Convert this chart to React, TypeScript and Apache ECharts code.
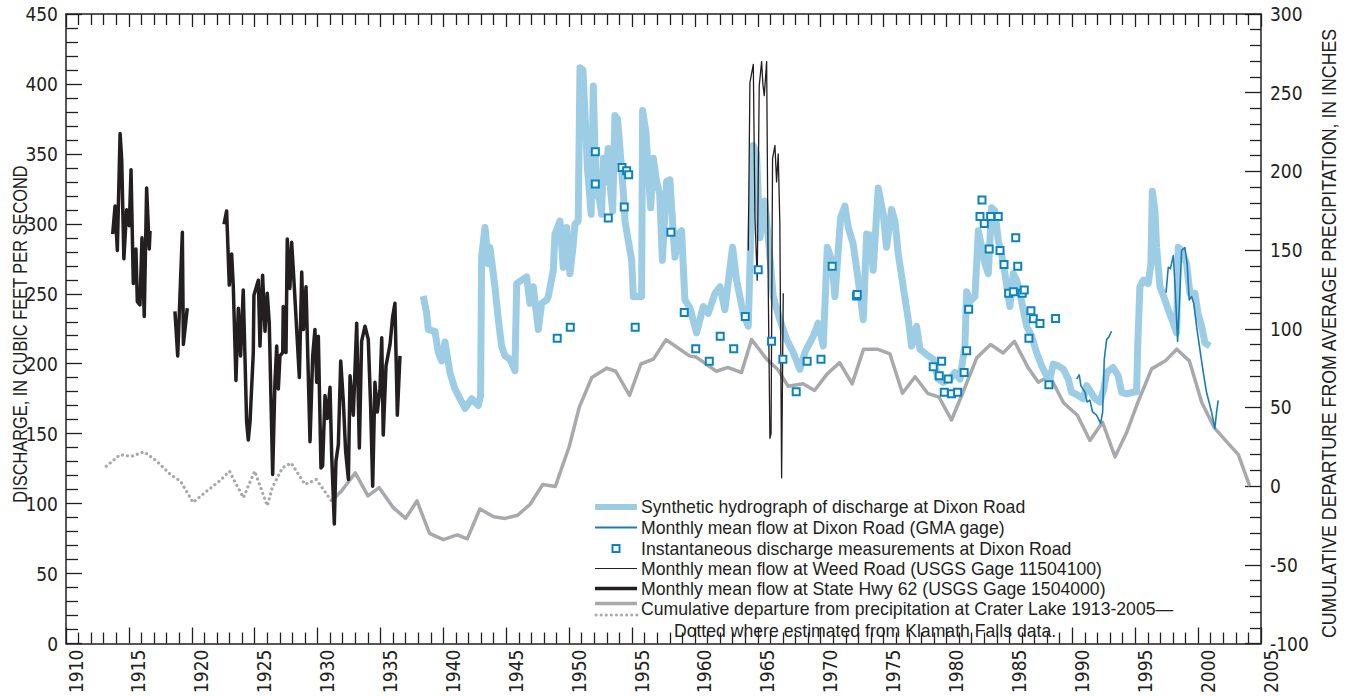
import React, { useEffect, useRef } from "react";
import * as echarts from "echarts";

const FONT = '"DejaVu Sans Condensed", "Liberation Sans", sans-serif';
const TEXT_FONT = '"Liberation Sans", Arial, sans-serif';
const INK = "#231f20";
const LIGHT_BLUE = "#9dcde4";
const GMA_BLUE = "#1a7db5";
const SQUARE_BLUE = "#0b84bd";
const GRAY = "#a7a9ac";

const X_MIN = 1910;
const X_MAX = 2005;
const Y_LEFT = [0, 450];
const Y_RIGHT = [-100, 300];

const leftAxisName = "DISCHARGE, IN CUBIC FEET PER SECOND";
const rightAxisName = "CUMULATIVE DEPARTURE FROM AVERAGE PRECIPITATION, IN INCHES";

const legendLabels = [
  "Synthetic hydrograph of discharge at Dixon Road",
  "Monthly mean flow at Dixon Road (GMA gage)",
  "Instantaneous discharge measurements at Dixon Road",
  "Monthly mean flow at Weed Road (USGS Gage 11504100)",
  "Monthly mean flow at State Hwy 62 (USGS Gage 1504000)",
  "Cumulative departure from precipitation at Crater Lake 1913-2005\u2014",
  "Dotted where estimated from Klamath Falls data.",
];

// Cumulative departure from average precipitation (right axis, inches)
const cumDepEstimated = [
  [1913.2, 12.6], [1914.3, 20], [1915.2, 18.9], [1916.2, 21.8], [1917.2, 16],
  [1918.3, 7.4], [1919.1, 3.2], [1920.1, -10.4], [1921.2, -3.1], [1922.2, 3.2],
  [1923.0, 9.4], [1924.1, -7.3], [1925.0, 9.5], [1926.0, -12.5], [1926.4, -1],
  [1927.2, 11.6], [1927.9, 14.7], [1929.0, 1.1], [1929.9, 4.2], [1931.1, -9.4],
];
const cumDepMeasured = [
  [1931.1, -9.4], [1931.9, -3.1], [1933.0, 8.4], [1934.0, -6.2], [1934.9, -1],
  [1936.0, -13.5], [1937.0, -20.5], [1937.9, -9.4], [1938.9, -30], [1940.0, -34],
  [1941.1, -31], [1941.9, -33.5], [1942.9, -14.5], [1944.0, -19.5], [1944.9, -20.5],
  [1945.9, -18.5], [1946.9, -11.5], [1947.9, 1], [1948.9, -0.2], [1950.0, 25],
  [1950.8, 50], [1951.8, 69], [1953.0, 75], [1953.7, 73], [1954.8, 57.6],
  [1955.7, 77.6], [1956.7, 80.7], [1957.7, 93], [1959.6, 82.6], [1960.1, 82],
  [1961.7, 73], [1962.6, 75.4], [1963.7, 72.2], [1964.5, 93.2], [1965.7, 80.7],
  [1966.6, 74], [1967.4, 63.5], [1968.6, 65], [1969.5, 60.8], [1970.5, 71.2],
  [1971.5, 78.5], [1972.5, 65], [1973.4, 87], [1974.5, 87], [1975.5, 84],
  [1976.5, 59], [1977.5, 69.5], [1978.5, 59], [1979.4, 56.5], [1980.4, 42],
  [1981.3, 59.5], [1982.4, 81.5], [1983.5, 90], [1984.5, 84.6], [1985.4, 92],
  [1986.5, 75], [1987.3, 66], [1988.2, 70], [1989.3, 53], [1990.4, 45],
  [1991.4, 29], [1992.4, 40.6], [1993.4, 18.6], [1994.3, 33.7], [1995.2, 53],
  [1996.3, 74.5], [1997.4, 79.6], [1998.3, 87], [1999.3, 79.6], [2000.3, 53],
  [2001.3, 37], [2002.3, 28], [2003.2, 20], [2004.1, 0],
];

// Synthetic hydrograph of discharge at Dixon Road (cfs)
const synthetic = [
  [1938.4, 248.4], [1938.67, 236], [1938.8, 224.4], [1939.33, 223.2], [1939.6, 208],
  [1939.87, 202], [1940.13, 215.5], [1940.52, 193.8], [1940.92, 182], [1941.32, 175],
  [1941.72, 168], [1942.25, 175], [1942.78, 170.2], [1942.96, 177.3], [1943.04, 276.2],
  [1943.31, 297.4], [1943.57, 271.5], [1943.7, 283.3], [1944.1, 255], [1944.37, 231.5],
  [1944.63, 212.6], [1944.9, 205.6], [1945.3, 203.2], [1945.69, 195], [1945.83, 257.3],
  [1946.22, 259.7], [1946.62, 262], [1946.88, 243.2], [1947.15, 255], [1947.55, 224.4],
  [1947.81, 243.2], [1948.21, 245.6], [1948.34, 248], [1948.74, 266.8], [1948.87, 292.7],
  [1949.27, 302], [1949.53, 269], [1949.8, 297.4], [1950.06, 264.4], [1950.3, 283],
  [1950.46, 299.7], [1950.72, 302], [1950.86, 411.6], [1951.1, 410], [1951.45, 340],
  [1951.75, 306.8], [1951.92, 398.6], [1952.0, 370], [1952.17, 321], [1952.4, 318],
  [1952.58, 306.8], [1952.71, 346.8], [1952.9, 330], [1953.1, 353.9], [1953.3, 323.3],
  [1953.46, 309], [1953.64, 377.4], [1953.85, 375], [1954.04, 353.9], [1954.3, 323.3],
  [1954.44, 302], [1954.7, 288], [1954.97, 273.9], [1955.1, 248], [1955.76, 248],
  [1955.84, 381], [1956.1, 365.7], [1956.29, 337.4], [1956.48, 311.5], [1956.69, 346.8],
  [1956.95, 330.4], [1957.2, 321], [1957.41, 273.9], [1957.75, 330.4], [1958.01, 331.5],
  [1958.28, 292.7], [1958.41, 276.2], [1958.67, 292.7], [1958.94, 295], [1959.2, 245.6],
  [1959.6, 240], [1960.13, 222], [1960.66, 240.9], [1961.06, 236], [1961.59, 250.3],
  [1961.99, 255], [1962.38, 238.6], [1962.99, 283.3], [1963.31, 259.7], [1963.84, 236],
  [1964.24, 226.8], [1964.63, 356], [1964.9, 350], [1965.17, 290], [1965.56, 316.3],
  [1965.83, 290], [1966.22, 248], [1966.75, 231.5], [1967.29, 217.4], [1967.81, 208],
  [1968.35, 196], [1968.74, 208], [1969.4, 219.7], [1969.8, 229], [1970.2, 212.6],
  [1970.52, 283.3], [1970.87, 274], [1971.13, 248], [1971.58, 304.5], [1971.92, 312.7],
  [1972.19, 297.4], [1972.58, 285.6], [1972.98, 259.7], [1973.38, 231.5], [1973.65, 292.7],
  [1973.9, 292], [1974.17, 266.8], [1974.57, 325.6], [1974.97, 306.8], [1975.23, 283.3],
  [1975.63, 310.3], [1975.9, 302], [1976.16, 278.5], [1976.56, 255], [1976.96, 231.5],
  [1977.22, 212.6], [1977.62, 226.8], [1977.89, 210.3], [1978.55, 205.6], [1978.95, 203.2],
  [1979.34, 189], [1979.74, 186.7], [1980.27, 189], [1980.67, 193.8], [1981.07, 189],
  [1981.46, 212.6], [1981.6, 251.5], [1981.86, 244.4], [1982.26, 248], [1982.53, 295],
  [1982.79, 283.3], [1983.05, 271.5], [1983.32, 264.4], [1983.58, 311.5], [1983.85, 309.2],
  [1984.11, 288], [1984.38, 278.5], [1984.64, 264.4], [1985.04, 240.9], [1985.31, 264.4],
  [1985.57, 259.7], [1985.84, 250.3], [1986.1, 238.6], [1986.37, 226.8], [1986.76, 219.7],
  [1987.16, 208], [1987.56, 198.5], [1987.96, 191.4], [1988.22, 189], [1988.48, 199.7],
  [1988.88, 198.5], [1989.28, 196.1], [1989.68, 189], [1989.94, 179.6], [1990.34, 178],
  [1990.87, 175], [1991.14, 184.4], [1991.4, 180.8], [1991.8, 175], [1992.19, 172.6],
  [1992.51, 182], [1992.73, 193.8], [1993.25, 197.3], [1993.65, 191.4], [1993.92, 179.6],
  [1994.31, 178.5], [1994.84, 179.6], [1995.11, 180], [1995.2, 212.6], [1995.37, 255],
  [1995.64, 259.7], [1996.03, 257.3], [1996.25, 271.5], [1996.36, 323.3], [1996.57, 309.2],
  [1996.7, 283.3], [1996.97, 255], [1997.36, 245.6], [1997.63, 238.6], [1998.02, 229],
  [1998.29, 222], [1998.42, 283.3], [1998.69, 281], [1999.08, 271.5], [1999.35, 250.3],
  [1999.75, 250.3], [1999.99, 236], [2000.28, 226.8], [2000.54, 215], [2000.94, 212.6],
];

// Monthly mean flow at Dixon Road (GMA gage)
const gmaSeg1 = [
  [1990.34, 189], [1990.55, 192], [1990.68, 184.4], [1991.0, 179.7], [1991.18, 172.6],
  [1991.4, 174], [1991.61, 165.5], [1991.93, 163.2], [1992.25, 157.3], [1992.41, 165.5],
  [1992.54, 203], [1992.73, 217.4], [1992.9, 219], [1993.12, 223.2],
];
const gmaSeg2 = [
  [1997.45, 250.8], [1997.63, 269], [1997.8, 268], [1998.03, 277.4], [1998.2, 250],
  [1998.37, 216], [1998.55, 250.3], [1998.69, 281], [1998.95, 283], [1999.13, 271.5],
  [1999.29, 245.6], [1999.48, 248], [1999.66, 243], [1999.88, 226.7], [2000.14, 210.3],
  [2000.41, 193.8], [2000.67, 179.6], [2001.07, 165.5], [2001.33, 153.8], [2001.47, 165.5],
  [2001.6, 173.8],
];

// Instantaneous discharge measurements at Dixon Road
const measurements = [
  [1949.05, 218.3], [1950.09, 226], [1952.08, 351.6], [1952.08, 328.5], [1953.11, 304.2],
  [1954.2, 340.3], [1954.57, 338], [1954.73, 335], [1954.38, 312], [1955.25, 226],
  [1958.09, 294], [1959.15, 236.6], [1960.06, 210.7], [1961.14, 201.8], [1962.01, 219.7],
  [1963.08, 210.7], [1964.0, 233.8], [1965.03, 267.2], [1966.09, 216], [1966.99, 203.2],
  [1968.05, 180], [1968.92, 201.8], [1970.02, 203.2], [1970.91, 269.6], [1972.85, 248.4],
  [1972.9, 249.5], [1978.94, 197.8], [1979.61, 201.8], [1979.42, 191.4], [1980.13, 189],
  [1979.82, 179.6], [1980.4, 178.5], [1980.88, 179.6], [1981.4, 193.8], [1981.6, 209.3],
  [1981.76, 239], [1982.82, 317], [1982.66, 305.2], [1983.0, 300.2], [1983.51, 305.2],
  [1984.11, 305.2], [1983.39, 282], [1984.25, 281], [1984.57, 271], [1985.5, 290],
  [1985.66, 269.6], [1984.94, 250.3], [1985.31, 251.5], [1986.02, 250.3], [1986.18, 252.7],
  [1986.71, 237.9], [1986.9, 232.2], [1987.43, 228.7], [1986.55, 218.3], [1988.67, 232.4],
  [1988.14, 185],
];

// Monthly mean flow at Weed Road (USGS Gage 11504100)
const weedRoad = [
  [1964.24, 281], [1964.37, 401], [1964.64, 414], [1964.77, 304.5], [1964.95, 259.7],
  [1965.11, 398.6], [1965.3, 416], [1965.4, 400], [1965.51, 391.6], [1965.7, 416],
  [1965.83, 252.7], [1965.96, 146.7], [1966.05, 150], [1966.17, 346.8], [1966.36, 356],
  [1966.49, 330], [1966.62, 350], [1966.75, 300], [1966.89, 118.5], [1967.02, 250.3],
];

// Monthly mean flow at State Hwy 62 (USGS Gage 1504000)
const hwy62Seg1 = [
  [1913.71, 292.7], [1913.9, 312.7], [1914.08, 281], [1914.3, 364.5], [1914.43, 345.7],
  [1914.6, 275], [1914.82, 310], [1915.03, 298.6], [1915.17, 338.6], [1915.35, 257.3],
  [1915.56, 282], [1915.67, 244.4], [1915.88, 242], [1916.04, 290], [1916.22, 233.8],
  [1916.41, 325.6], [1916.62, 282], [1916.68, 295],
];
const hwy62Seg2 = [
  [1918.66, 237.4], [1918.88, 205.6], [1919.25, 293.9], [1919.33, 213.8], [1919.64, 239.7],
];
const hwy62Seg3 = [
  [1922.56, 299.7], [1922.77, 309.2], [1922.98, 256.2], [1923.17, 278.5], [1923.3, 255],
  [1923.51, 188], [1923.7, 239.7], [1923.88, 205.6], [1924.09, 252.7], [1924.36, 158.4],
  [1924.49, 145.5], [1924.63, 158.4], [1924.89, 208], [1924.94, 249], [1925.29, 259.7],
  [1925.42, 212.6], [1925.63, 263.3], [1925.82, 223.2], [1926.0, 250.3], [1926.16, 229],
  [1926.43, 120.8], [1926.61, 186.7], [1926.75, 212.6], [1926.88, 182], [1927.01, 205.6],
  [1927.23, 208], [1927.27, 240.9], [1927.49, 208], [1927.59, 289.2], [1927.8, 253.8],
  [1927.94, 286.8], [1928.15, 255], [1928.55, 190.2], [1928.74, 265.6], [1928.87, 224.4],
  [1929.08, 255], [1929.4, 144.3], [1929.61, 205.6], [1929.79, 224.4], [1929.93, 186.7],
  [1930.06, 219.7], [1930.27, 125.5], [1930.4, 127], [1930.59, 177.3], [1930.77, 160.8],
  [1930.99, 183.2], [1931.12, 134.9], [1931.33, 85.5], [1931.46, 130.2], [1931.65, 142],
  [1931.84, 202], [1932.05, 172.6], [1932.23, 137.3], [1932.45, 117.3], [1932.58, 191.4],
  [1932.84, 163.2], [1933.11, 229], [1933.32, 139.7], [1933.5, 216], [1933.77, 226.8],
  [1934.03, 217.4], [1934.22, 169], [1934.38, 112.5], [1934.56, 186.7], [1934.75, 165.5],
  [1934.96, 182], [1935.1, 218.5], [1935.22, 149], [1935.44, 198.5], [1935.76, 213.8],
  [1935.97, 233.8], [1936.15, 243.2], [1936.34, 163.2], [1936.55, 205.6],
];

function lineSeries(data: number[][], color: string, width: number, z: number, yAxisIndex = 0, dash?: any) {
  return {
    type: "line",
    data,
    yAxisIndex,
    xAxisIndex: 0,
    showSymbol: false,
    symbol: "none",
    z,
    lineStyle: {
      color,
      width,
      type: dash || "solid",
      cap: dash ? "round" : "butt",
      join: "round",
    },
    emphasis: { disabled: true },
  };
}

function narrowText(text: string, x: number, y: number, size: number, scale: number, align = "left", rotation = 0) {
  return {
    type: "text",
    x,
    y,
    rotation,
    scaleX: scale,
    silent: true,
    style: {
      text,
      fill: INK,
      font: `${size}px ${TEXT_FONT}`,
      align,
      verticalAlign: "middle",
    },
  };
}

function buildLegend() {
  const x1 = 595;
  const x2 = 637;
  const tx = 641;
  const rows = [507, 527.5, 548.5, 568.5, 588.5, 609];
  const S = 18;
  const K = 0.98;
  return [
    { type: "line", silent: true, shape: { x1, y1: rows[0], x2, y2: rows[0] }, style: { stroke: LIGHT_BLUE, lineWidth: 6 } },
    { type: "line", silent: true, shape: { x1, y1: rows[1], x2, y2: rows[1] }, style: { stroke: GMA_BLUE, lineWidth: 1.8 } },
    { type: "rect", silent: true, shape: { x: 612.5, y: rows[2] - 3.5, width: 7, height: 7 }, style: { fill: "#fff", stroke: SQUARE_BLUE, lineWidth: 2 } },
    { type: "line", silent: true, shape: { x1, y1: rows[3], x2, y2: rows[3] }, style: { stroke: INK, lineWidth: 1.2 } },
    { type: "line", silent: true, shape: { x1, y1: rows[4], x2, y2: rows[4] }, style: { stroke: INK, lineWidth: 3.5 } },
    { type: "line", silent: true, shape: { x1, y1: 603.5, x2, y2: 603.5 }, style: { stroke: GRAY, lineWidth: 3.5 } },
    { type: "line", silent: true, shape: { x1: x1 + 1, y1: 615, x2, y2: 615 }, style: { stroke: GRAY, lineWidth: 3, lineDash: [0.1, 5], lineCap: "round" } },
    narrowText(legendLabels[0], tx, rows[0], S, K),
    narrowText(legendLabels[1], tx, rows[1], S, K),
    narrowText(legendLabels[2], tx, rows[2], S, K),
    narrowText(legendLabels[3], tx, rows[3], S, K),
    narrowText(legendLabels[4], tx, rows[4], S, K),
    narrowText(legendLabels[5], tx, rows[5], S, K),
    narrowText(legendLabels[6], 865, 630.5, S, K, "center"),
    narrowText(leftAxisName, 19.5, 334, 21, 0.78, "center", Math.PI / 2),
    narrowText(rightAxisName, 1328.5, 333.5, 21, 0.845, "center", Math.PI / 2),
  ];
}

export default function App() {
  const ref = useRef<HTMLDivElement>(null);

  useEffect(() => {
    if (!ref.current) return;
    const chart = echarts.init(ref.current, null, { renderer: "svg" });
    const axisLine = { show: true, onZero: false, lineStyle: { color: INK, width: 1.5 } };
    const labelStyle = { color: INK, fontFamily: FONT, fontSize: 19 };
    chart.setOption({
      animation: false,
      backgroundColor: "#ffffff",
      grid: { left: 66, right: 90, top: 14, bottom: 45, containLabel: false },
      xAxis: [
        {
          type: "value",
          position: "bottom",
          min: X_MIN,
          max: X_MAX,
          interval: 5,
          axisLine,
          axisTick: { show: true, inside: true, length: 16, lineStyle: { color: INK, width: 1.3 } },
          minorTick: { show: true, splitNumber: 5, length: 11, lineStyle: { color: INK, width: 1.3 } },
          splitLine: { show: false },
          axisLabel: {
            ...labelStyle,
            rotate: 90,
            margin: 6,
            verticalAlign: "top",
            showMinLabel: true,
            showMaxLabel: true,
            formatter: (v: number) => String(v),
          },
        },
        {
          type: "value",
          position: "top",
          min: X_MIN,
          max: X_MAX,
          interval: 5,
          axisLine,
          axisTick: { show: true, inside: true, length: 13, lineStyle: { color: INK, width: 1.3 } },
          minorTick: { show: true, splitNumber: 5, length: 11, lineStyle: { color: INK, width: 1.3 } },
          splitLine: { show: false },
          axisLabel: { show: false },
        },
      ],
      yAxis: [
        {
          type: "value",
          position: "left",
          min: Y_LEFT[0],
          max: Y_LEFT[1],
          interval: 50,
          axisLine,
          axisTick: { show: true, inside: true, length: 16, lineStyle: { color: INK, width: 1.3 } },
          minorTick: { show: true, splitNumber: 5, length: 12, lineStyle: { color: INK, width: 1.3 } },
          splitLine: { show: false },
          axisLabel: { ...labelStyle, margin: 8 },
        },
        {
          type: "value",
          position: "right",
          min: Y_RIGHT[0],
          max: Y_RIGHT[1],
          interval: 50,
          axisLine,
          axisTick: { show: true, inside: true, length: 16, lineStyle: { color: INK, width: 1.3 } },
          minorTick: { show: true, splitNumber: 5, length: 11, lineStyle: { color: INK, width: 1.3 } },
          splitLine: { show: false },
          axisLabel: { ...labelStyle, margin: 9 },
        },
      ],
      series: [
        lineSeries(cumDepEstimated, GRAY, 3.2, 1, 1, [0.1, 5]),
        lineSeries(cumDepMeasured, GRAY, 3.5, 1, 1),
        lineSeries(synthetic, LIGHT_BLUE, 7, 2),
        lineSeries(hwy62Seg1, INK, 3.5, 3),
        lineSeries(hwy62Seg2, INK, 3.5, 3),
        lineSeries(hwy62Seg3, INK, 3.5, 3),
        lineSeries(weedRoad, INK, 1.3, 4),
        lineSeries(gmaSeg1, GMA_BLUE, 1.6, 5),
        lineSeries(gmaSeg2, GMA_BLUE, 1.6, 5),
        {
          type: "scatter",
          data: measurements,
          symbol: "rect",
          symbolSize: 7,
          z: 6,
          itemStyle: { color: "#ffffff", borderColor: SQUARE_BLUE, borderWidth: 2, opacity: 1 },
          emphasis: { disabled: true },
        },
      ],
      graphic: buildLegend(),
    });
    return () => chart.dispose();
  }, []);

  return (
    <div
      ref={ref}
      style={{ position: "fixed", left: 0, top: 0, width: 1351, height: 696, background: "#fff" }}
    />
  );
}
